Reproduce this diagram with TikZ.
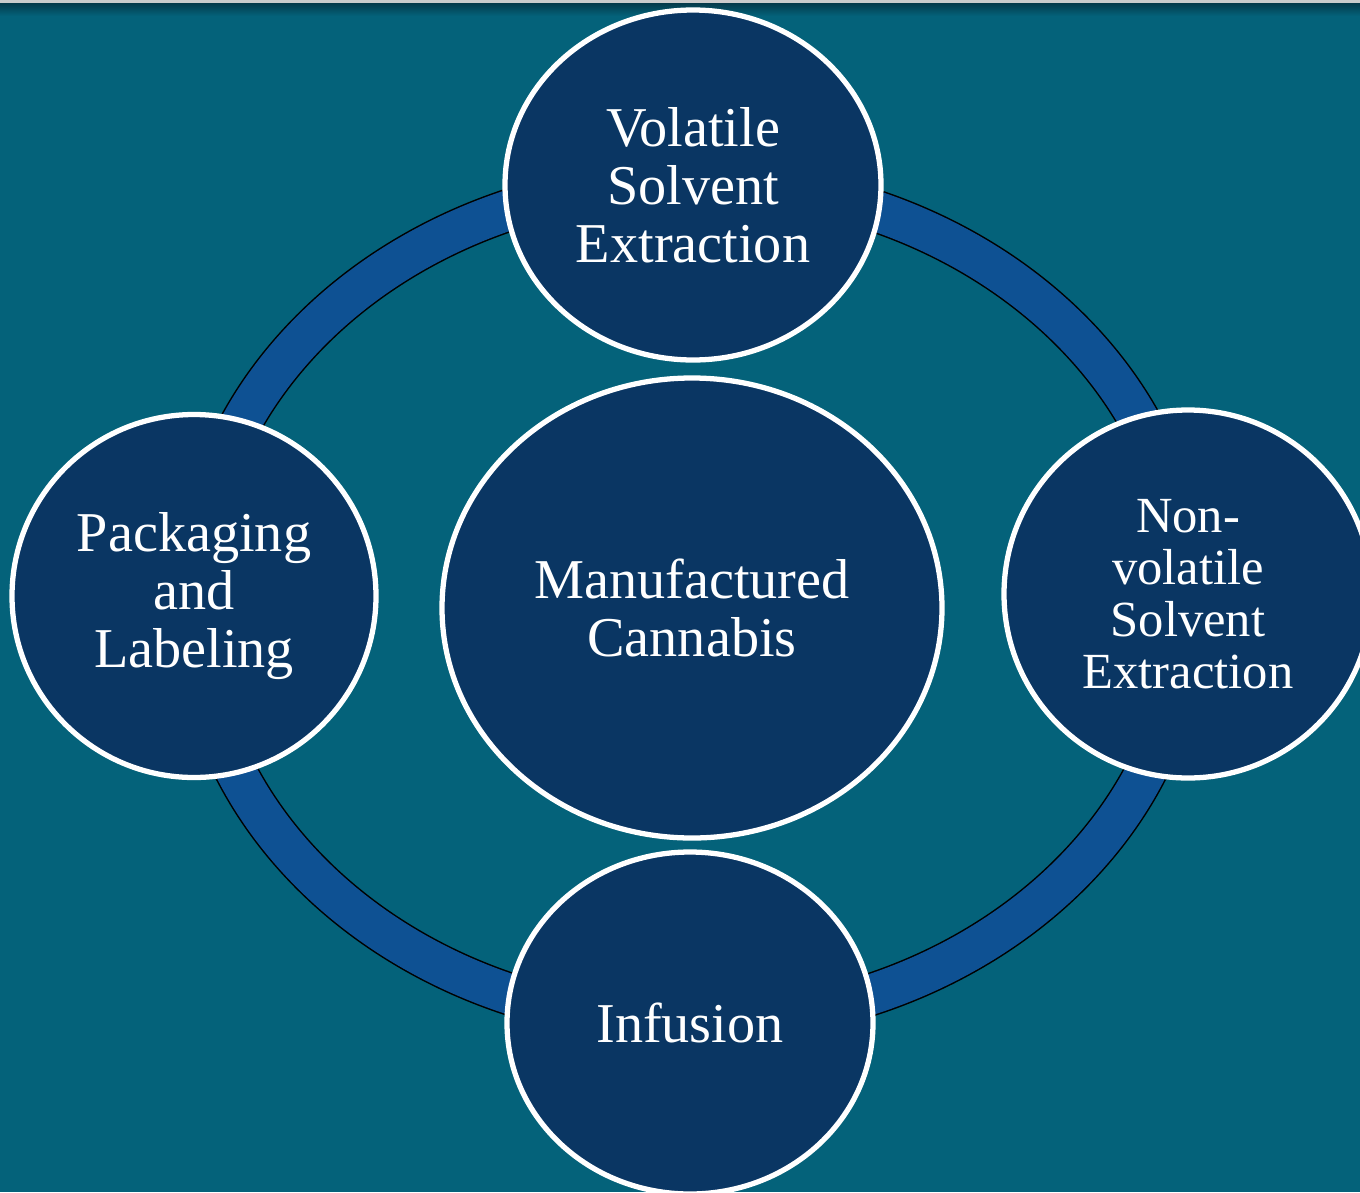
\documentclass[tikz,border=0pt]{standalone}
\usepackage{fontspec}
\setmainfont{Liberation Serif}
\usetikzlibrary{shapes.geometric, positioning, backgrounds}
\definecolor{bgteal}{RGB}{4,98,122}
\definecolor{bgshadow}{RGB}{5,58,74}
\definecolor{nodenavy}{RGB}{10,54,99}
\definecolor{ringblue}{RGB}{14,81,147}
\tikzset{stage/.style={ellipse, fill=nodenavy, draw=white, line width=1.5pt, text=white, align=center, inner sep=0pt, font=\fontsize{16}{16.5}\selectfont},
small stage/.style={stage, font=\fontsize{14.4}{14.8}\selectfont}}

\begin{document}
\begin{tikzpicture}
 \useasboundingbox (0,0) rectangle (13.6,-11.92);
 %Background and top edge
 \fill[bgteal] (0,0) rectangle (13.6,-11.92);
 \shade[top color=bgshadow, bottom color=bgteal] (0,-0.03) rectangle (13.6,-0.16);
 \fill[gray!40] (0,0) rectangle (13.6,-0.03);

 %Ring behind the stages
 \coordinate (hub) at (6.91,-6.02);
 \draw[line width=0.43cm, black] (hub) ellipse [x radius=4.97, y radius=4.21];
 \draw[line width=0.40cm, ringblue] (hub) ellipse [x radius=4.97, y radius=4.21];

 %Stages
 \node[stage, minimum width=5.0cm, minimum height=4.6cm] (core) at (6.92,-6.08) {Manufactured\\Cannabis};
 \node[stage, minimum width=3.76cm, minimum height=3.5cm] (volatile) at (6.93,-1.85) {Volatile\\Solvent\\Extraction};
 \node[small stage, minimum width=3.68cm, minimum height=3.68cm] (nonvolatile) at (11.88,-5.94) {Non-\\volatile\\Solvent\\Extraction};
 \node[stage, minimum width=3.66cm, minimum height=3.42cm] (infusion) at (6.90,-10.23) {Infusion};
 \node[stage, minimum width=3.64cm, minimum height=3.63cm] (packaging) at (1.94,-5.96) {Packaging\\and\\Labeling};

\end{tikzpicture}
\end{document}
